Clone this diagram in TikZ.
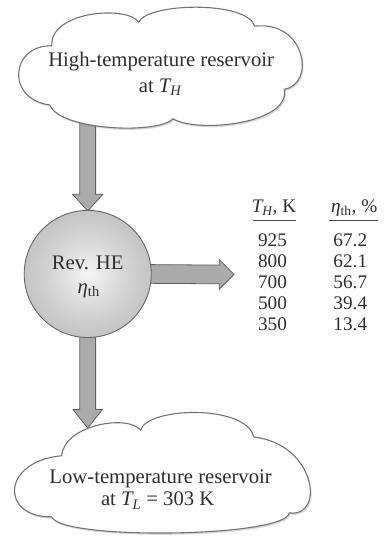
\documentclass[tikz,border=0pt]{standalone}
\usepackage{fontspec}
\setmainfont{Liberation Serif}
\usetikzlibrary{calc,shadows,backgrounds}
\pgfdeclareradialshading{sphereshade}{\pgfpoint{0bp}{0bp}}{color(0bp)=(black!4); color(14bp)=(black!16); color(32bp)=(black!28); color(50bp)=(black!38); color(75bp)=(black!40)}
\begin{document}
\begin{tikzpicture}[x=1pt,y=-1pt,
  txt/.style={text=black!82, font=\fontsize{21}{26}\selectfont, inner sep=0pt, anchor=base},
  tabtxt/.style={text=black!82, font=\fontsize{19.5}{22}\selectfont, inner sep=0pt, anchor=base},
  cloudline/.style={draw=black!55, line width=1.1pt, fill=white, drop shadow={shadow xshift=1.2pt, shadow yshift=-1.8pt, opacity=0.3}},
  blockarr/.style={draw=black!62, fill=black!33, line width=0.8pt, line join=miter},
  tabrule/.style={draw=black!70, line width=0.9pt}]
\begin{pgfonlayer}{background}
\useasboundingbox[fill=white] (0,0) rectangle (393,541);
\end{pgfonlayer}

% heat engine
\node[circle, minimum size=129pt, inner sep=0pt, draw=black!60, line width=0.9pt, shading=sphereshade] (he) at (88.5,277.5) {};
\node[txt] (helabel) at (88.5,273) {Rev. HE};
\node[txt] (heeta) at (89.5,297) {{\itshape η}\textsubscript{th}};

% connector end points
\coordinate (hotfoot) at (88.5,118);
\coordinate (worktip) at (237,278);
\coordinate (coldtop) at (88.5,432);

\begin{pgfonlayer}{background}
\draw[blockarr] ($(hotfoot)+(-8,0)$) -- ($(he.north)+(-8,-16)$) -- ($(he.north)+(-15.5,-16)$) -- ($(he.north)+(0,1)$) -- ($(he.north)+(15.5,-16)$) -- ($(he.north)+(8,-16)$) -- ($(hotfoot)+(8,0)$) -- cycle;
\draw[blockarr] ($(he.east)+(-4,-9.5)$) -- ($(worktip)+(-15,-9.5)$) -- ($(worktip)+(-15,-15)$) -- (worktip) -- ($(worktip)+(-15,15)$) -- ($(worktip)+(-15,9.5)$) -- ($(he.east)+(-4,9.5)$) -- cycle;
\draw[blockarr] ($(he.south)+(-8,-4)$) -- ($(coldtop)+(-8,-17)$) -- ($(coldtop)+(-15,-17)$) -- ($(coldtop)+(0,2)$) -- ($(coldtop)+(15,-17)$) -- ($(coldtop)+(8,-17)$) -- ($(he.south)+(8,-4)$) -- cycle;
\end{pgfonlayer}

% high-temperature reservoir
\path[cloudline] (50,106) .. controls (5,100) and (10,45) .. (52,46)
  .. controls (50,10) and (130,5) .. (140,22)
  .. controls (150,2) and (250,0) .. (258,26)
  .. controls (310,20) and (320,85) .. (288,90)
  .. controls (295,125) and (200,135) .. (175,120)
  .. controls (160,136) and (60,132) .. (50,106) -- cycle;
\node[txt] (hot1) at (163,67) {High-temperature reservoir};
\node[txt] (hot2) at (162,93) {at {\itshape T}\textsubscript{\itshape H}};

% low-temperature reservoir
\path[cloudline] (52,524) .. controls (0,525) and (0,468) .. (62,462)
  .. controls (65,430) and (130,420) .. (142,436)
  .. controls (150,412) and (250,410) .. (257,443)
  .. controls (320,450) and (330,525) .. (293,520)
  .. controls (290,545) and (60,548) .. (52,524) -- cycle;
\node[txt] (cold1) at (162.5,490) {Low-temperature reservoir};
\node[txt] (cold2) at (159.5,513) {at {\itshape T}\textsubscript{\itshape L} = 303 K};

% table
\node[tabtxt] (th) at (277.5,215) {{\itshape T}\textsubscript{\itshape H}, K};
\node[tabtxt] (te) at (359,215) {{\itshape η}\textsubscript{th}, \%};
\draw[tabrule] (256,223) -- (300,223);
\draw[tabrule] (333,223) -- (383,223);
\node[tabtxt] (a1) at (276,250) {925};
\node[tabtxt] (a2) at (276,271.2) {800};
\node[tabtxt] (a3) at (276,292.4) {700};
\node[tabtxt] (a4) at (276,313.6) {500};
\node[tabtxt] (a5) at (276,334.8) {350};
\node[tabtxt] (b1) at (355,250) {67.2};
\node[tabtxt] (b2) at (355,271.2) {62.1};
\node[tabtxt] (b3) at (355,292.4) {56.7};
\node[tabtxt] (b4) at (355,313.6) {39.4};
\node[tabtxt] (b5) at (355,334.8) {13.4};
\end{tikzpicture}
\end{document}
